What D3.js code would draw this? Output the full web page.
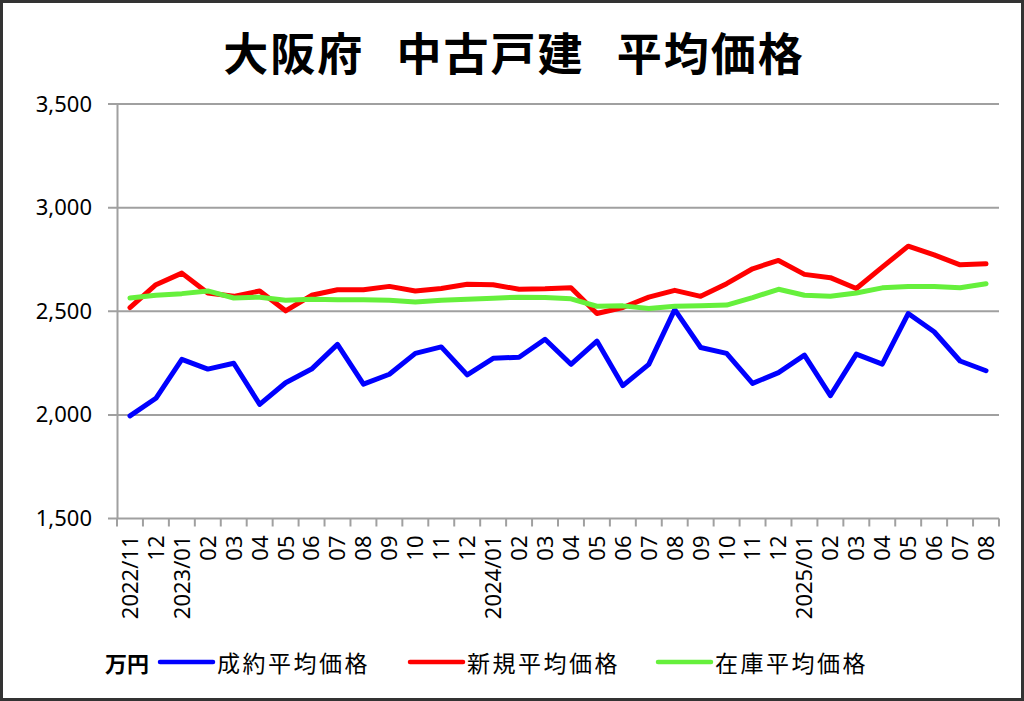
<!DOCTYPE html>
<html>
<head>
<meta charset="utf-8">
<script src="https://cdn.jsdelivr.net/npm/d3@7"></script>
<style>
  html, body { margin: 0; padding: 0; background: #fff; }
  svg { display: block; }
</style>
</head>
<body>
<svg id="chart" width="1024" height="701"></svg>
<script>
const title = "大阪府 中古戸建 平均価格";
const unitLabel = "万円";
const months = ["2022/11","2022/12","2023/01","2023/02","2023/03","2023/04","2023/05","2023/06","2023/07","2023/08","2023/09","2023/10","2023/11","2023/12",
  "2024/01","2024/02","2024/03","2024/04","2024/05","2024/06","2024/07","2024/08","2024/09","2024/10","2024/11","2024/12",
  "2025/01","2025/02","2025/03","2025/04","2025/05","2025/06","2025/07","2025/08"];
const tickLabels = ["2022/11","12","2023/01","02","03","04","05","06","07","08","09","10","11","12",
  "2024/01","02","03","04","05","06","07","08","09","10","11","12",
  "2025/01","02","03","04","05","06","07","08"];
const seriesNames = ["成約平均価格","新規平均価格","在庫平均価格"];
const contractPrice = [1995,2080,2268,2221,2249,2051,2155,2221,2340,2148,2196,2297,2328,2193,2273,2278,2365,2244,2356,2141,2244,2508,2325,2297,2152,2204,2288,2093,2293,2245,2489,2401,2260,2213];
const newPrice      = [2518,2628,2684,2588,2572,2598,2502,2577,2604,2604,2620,2598,2610,2630,2628,2606,2608,2613,2489,2518,2568,2601,2572,2633,2705,2745,2678,2662,2610,2713,2814,2772,2724,2729];
const stockPrice    = [2564,2577,2585,2598,2564,2568,2553,2558,2556,2556,2553,2545,2553,2558,2563,2568,2566,2560,2524,2526,2513,2524,2527,2530,2566,2606,2577,2572,2588,2613,2620,2620,2613,2633];
const yTicks = [1500,2000,2500,3000,3500];
const colors = ["#0000ff","#ff0000","#66f03c"];

const svg = d3.select("#chart");
const W = 1024, H = 701;
const mLeft = 117, mRight = 999, mTop = 104, mBottom = 518.5;

svg.append("rect").attr("x",1.5).attr("y",1.5).attr("width",W-3).attr("height",H-3)
  .attr("fill","#fff").attr("stroke","#333").attr("stroke-width",3);

svg.append("text").attr("x",514).attr("y",51)
  .attr("text-anchor","middle").attr("dominant-baseline","central")
  .style("font-family","'Noto Sans CJK JP'").style("font-weight","bold").style("font-size","45px")
  .style("letter-spacing","2px").style("word-spacing","20px")
  .text(title);

const x = d3.scaleBand().domain(months).range([mLeft,mRight]);
const y = d3.scaleLinear().domain([1500,3500]).range([mBottom,mTop]);

// gridlines
svg.append("g").selectAll("line").data(yTicks).join("line")
  .attr("x1",mLeft-9).attr("x2",mRight).attr("y1",d=>y(d)).attr("y2",d=>y(d))
  .attr("stroke","#a0a0a0").attr("stroke-width",2);

// y axis
const yAxis = svg.append("g").attr("transform",`translate(${mLeft},0)`)
  .call(d3.axisLeft(y).tickValues(yTicks).tickFormat(d3.format(",")).tickSize(0).tickPadding(25));
yAxis.select(".domain").attr("stroke","#a0a0a0").attr("stroke-width",2);
yAxis.selectAll("text").style("font-family","'Noto Sans'").style("font-size","22px").attr("fill","#000");

// x axis
const xAxis = svg.append("g").attr("transform",`translate(0,${mBottom})`)
  .call(d3.axisBottom(x).tickFormat((d,i)=>tickLabels[i]).tickSize(0));
xAxis.select(".domain").remove();
xAxis.selectAll("text")
  .attr("transform","rotate(-90)")
  .attr("text-anchor","end")
  .attr("x",-17).attr("y",0).attr("dy","0.36em")
  .style("font-family","'Noto Sans'").style("font-size","22px").attr("fill","#000");
const bounds = months.map(m=>x(m)).concat([x.range()[1]]);
svg.append("g").selectAll("line").data(bounds).join("line")
  .attr("x1",d=>d).attr("x2",d=>d).attr("y1",mBottom).attr("y2",mBottom+8)
  .attr("stroke","#a0a0a0").attr("stroke-width",2);

// lines
const allSeries = [contractPrice,newPrice,stockPrice];
const line = d3.line().x((d,i)=>x(months[i])+x.bandwidth()/2).y(d=>y(d));
svg.append("g").selectAll("path").data(allSeries).join("path")
  .attr("d",line).attr("fill","none")
  .attr("stroke",(d,i)=>colors[i]).attr("stroke-width",5)
  .attr("stroke-linejoin","round").attr("stroke-linecap","round");

// legend
const ly = 662;
svg.append("text").attr("x",105).attr("y",ly).attr("dominant-baseline","central")
  .style("font-family","'Noto Sans CJK JP'").style("font-weight","bold").style("font-size","22px")
  .text(unitLabel);
const legendX = [160,410,658];
const lg = svg.append("g").selectAll("g").data(seriesNames).join("g")
  .attr("transform",(d,i)=>`translate(${legendX[i]},${ly})`);
lg.append("line").attr("x1",0).attr("x2",53).attr("y1",0).attr("y2",0)
  .attr("stroke",(d,i)=>colors[i]).attr("stroke-width",4.5).attr("stroke-linecap","round");
lg.append("text").attr("x",57).attr("y",0).attr("dominant-baseline","central")
  .style("font-family","'Noto Sans CJK JP'").style("font-size","23px").style("letter-spacing","2.5px")
  .text(d=>d);
</script>
</body>
</html>
